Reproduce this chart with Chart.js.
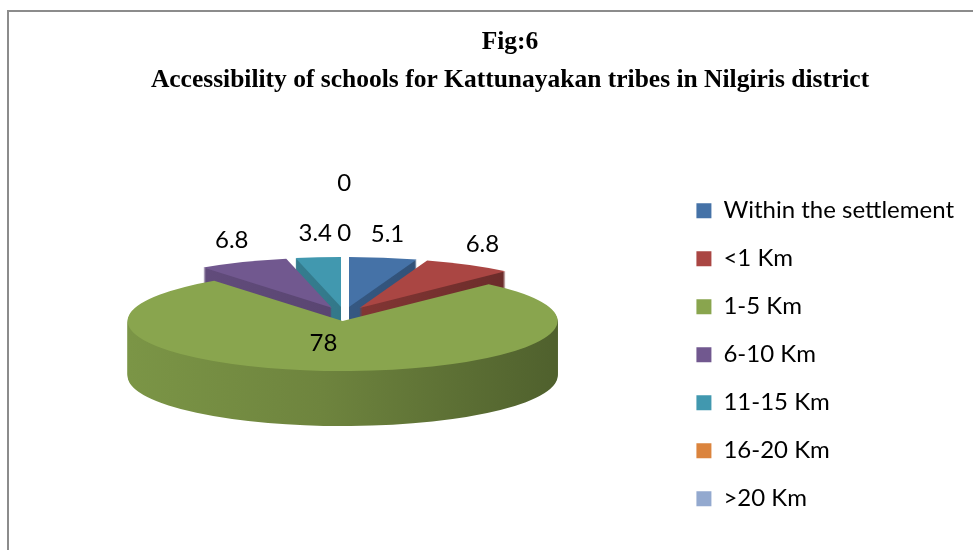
<!DOCTYPE html>
<html>
<head>
<meta charset="utf-8">
<script src="https://cdn.jsdelivr.net/npm/chart.js@4.4.1/dist/chart.umd.min.js"></script>
<style>
  html, body { margin: 0; padding: 0; background: #fff; overflow: hidden; width: 973px; height: 550px; }
  #frame { position: absolute; left: 7px; top: 10px; width: 1002px; height: 566px;
           border-left: 2px solid #8c8c8c; border-top: 2px solid #8c8c8c; }
  canvas { display: block; }
</style>
</head>
<body>
<div id="frame"><canvas id="pieChart" width="1002" height="566"></canvas></div>
<script>
const categories = ['Within the settlement', '<1 Km', '1-5 Km', '6-10 Km', '11-15 Km', '16-20 Km', '>20 Km'];
const shares = [5.1, 6.8, 78, 6.8, 3.4, 0, 0];
const sliceColors = ['#4572A7', '#AA4643', '#89A54E', '#71588F', '#4198AF', '#DB843D', '#93A9CF'];
const titleLines = ['Fig:6', 'Accessibility of schools for Kattunayakan tribes in Nilgiris district'];

// fake 3D: squash the pie, extrude it downwards, pull slices apart
const TILT = 0.233;
const DEPTH = 55;
const EXPLODE = 30;
const LABEL_SIZE = 24;

function shade(hex, f) {
    const n = parseInt(hex.slice(1), 16);
    const r = Math.round(((n >> 16) & 255) * f);
    const g = Math.round(((n >> 8) & 255) * f);
    const b = Math.round((n & 255) * f);
    return `rgb(${r},${g},${b})`;
}

const pie3d = {
    id: 'pie3d',
    afterLayout(chart) {
        // centre the title over the whole canvas, not the padded box
        chart.titleBlock.left = 0;
        chart.titleBlock.right = chart.width;
    },
    beforeDatasetsDraw(chart) {
        const ctx = chart.ctx;
        const arcs = chart.getDatasetMeta(0).data;
        const cx = arcs[0].x, cy = arcs[0].y, R = arcs[0].outerRadius;
        const baseY = cy - DEPTH / 2; // top face sits half the depth above plot centre

        const project = (px, py) => [px, baseY + (py - cy) * TILT];
        const centreOf = (el) => {
            const mid = (el.startAngle + el.endAngle) / 2;
            return [el.x + Math.cos(mid) * EXPLODE, el.y + Math.sin(mid) * EXPLODE, mid];
        };
        const slicePath = (el, dy) => {
            const [ex, ey] = centreOf(el);
            ctx.save();
            ctx.translate(0, baseY + dy);
            ctx.scale(1, TILT);
            ctx.translate(0, -cy);
            ctx.beginPath();
            ctx.moveTo(ex, ey);
            ctx.arc(ex, ey, el.outerRadius, el.startAngle, el.endAngle);
            ctx.closePath();
            ctx.restore();
        };

        const walls = arcs.map((el, i) => {
            const g = ctx.createLinearGradient(cx - R, 0, cx + R, 0);
            g.addColorStop(0, shade(sliceColors[i], 0.9));
            g.addColorStop(0.45, shade(sliceColors[i], 0.8));
            g.addColorStop(1, shade(sliceColors[i], 0.58));
            return g;
        });

        ctx.save();
        // side walls, deepest layer first
        for (let d = DEPTH; d >= 1; d--) {
            arcs.forEach((el, i) => {
                if (el.endAngle - el.startAngle <= 0) return;
                slicePath(el, d);
                ctx.fillStyle = walls[i];
                ctx.fill();
            });
        }
        // top faces
        arcs.forEach((el, i) => {
            if (el.endAngle - el.startAngle <= 0) return;
            slicePath(el, 0);
            ctx.fillStyle = el.options.backgroundColor;
            ctx.fill();
        });

        // data labels
        ctx.font = LABEL_SIZE + 'px Lato';
        ctx.fillStyle = '#000';
        ctx.textAlign = 'center';
        ctx.textBaseline = 'middle';
        const h = LABEL_SIZE;
        const placed = [];
        arcs.forEach((el, i) => {
            const txt = String(shares[i]);
            const w = ctx.measureText(txt).width;
            const [ex, ey, mid] = centreOf(el);
            const share = (el.endAngle - el.startAngle) / (2 * Math.PI);
            let x, y;
            if (share > 0.5) {
                [x, y] = project(ex + Math.cos(mid) * R * 0.45 - w / 2, ey + Math.sin(mid) * R * 0.45);
            } else {
                const [ax, ay] = project(ex + Math.cos(mid) * R, ey + Math.sin(mid) * R);
                x = ax + Math.cos(mid) * (w / 2 + 10);
                y = ay + Math.sin(mid) * (h / 2 + 12);
                // stack labels that would overlap
                while (placed.some(p => Math.abs(p.x - x) < (p.w + w) / 2 && Math.abs(p.y - y) < h)) {
                    y -= h * 2.05;
                }
            }
            placed.push({x, y, w});
            ctx.fillText(txt, x, y);
        });
        ctx.restore();
        return false;
    }
};

new Chart(document.getElementById('pieChart'), {
    type: 'pie',
    data: {
        labels: categories,
        datasets: [{
            data: shares,
            backgroundColor: sliceColors,
            borderWidth: 0,
            radius: 215
        }]
    },
    options: {
        responsive: false,
        animation: false,
        events: [],
        layout: { padding: { left: 7, right: 47, top: 0, bottom: 4 } },
        plugins: {
            title: {
                display: true,
                text: titleLines,
                color: '#000',
                font: { family: "'Liberation Serif', 'Times New Roman', serif", weight: 'bold', size: 25.5, lineHeight: 38 / 25.5 },
                padding: { top: 11, bottom: 10 }
            },
            legend: {
                position: 'right',
                align: 'start',
                title: { display: true, text: ' ', font: { size: 10, lineHeight: 1 }, padding: { top: 152.7, bottom: 0 } },
                labels: {
                    boxWidth: 15,
                    boxHeight: 15,
                    padding: 24,
                    color: '#000',
                    font: { family: 'Lato', size: 24 }
                }
            },
            tooltip: { enabled: false }
        }
    },
    plugins: [pie3d]
});
</script>
</body>
</html>
